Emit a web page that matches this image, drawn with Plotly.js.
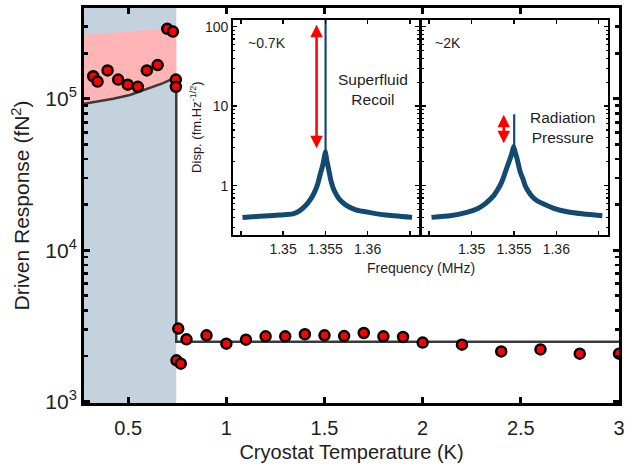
<!DOCTYPE html>
<html>
<head>
<meta charset="utf-8">
<script src="https://cdn.plot.ly/plotly-3.0.1.min.js"></script>
<style>html,body{margin:0;padding:0;background:#fff;}#chart{width:633px;height:466px;}</style>
</head>
<body>
<div id="chart"></div>
<script>
// ---- Main panel data ----
const tempK = [0.322, 0.344, 0.395, 0.449, 0.498, 0.549, 0.595, 0.650, 0.699, 0.728, 0.743, 0.743,
               0.746, 0.755, 0.768, 0.797, 0.899, 1.0, 1.1, 1.2, 1.3, 1.4, 1.5, 1.6, 1.7, 1.8, 1.9, 2.0,
               2.2, 2.4, 2.6, 2.8, 3.0];
const response = [1.41e5, 1.30e5, 1.54e5, 1.34e5, 1.24e5, 1.20e5, 1.54e5, 1.67e5, 2.90e5, 2.78e5, 1.34e5, 1.20e5,
                  1870, 3030, 1778, 2575, 2737, 2410, 2563, 2694, 2694, 2780, 2737, 2704, 2833, 2694, 2667, 2449,
                  2374, 2143, 2208, 2069, 2069];
// model line
const modelT = [0.275, 0.424, 0.509, 0.594, 0.678, 0.745, 0.745, 3.0];
const modelY = [9.27e4, 1.0e5, 1.06e5, 1.16e5, 1.27e5, 1.39e5, 2480, 2480];
// pink band upper edge
const bandT = [0.275, 0.45, 0.6, 0.745];
const bandUpper = [2.65e5, 2.77e5, 2.85e5, 2.94e5];
const superfluidEdgeK = 0.745;
const xTicks = [0.5, 1, 1.5, 2, 2.5, 3];
const xTickText = ['0.5', '1', '1.5', '2', '2.5', '3'];
const yTicks = [1e3, 1e4, 1e5];
const yTickText = ['10<sup>3</sup>', '10<sup>4</sup>', '10<sup>5</sup>'];

// ---- Inset spectra (~0.7 K) ----
const freqLow = [1.34520, 1.34724, 1.34959, 1.35115, 1.35194, 1.35273, 1.35332, 1.35371, 1.35409, 1.35441,
                 1.35468, 1.35488, 1.35500, 1.35515, 1.35539, 1.35567, 1.35606, 1.35665, 1.35744, 1.35861,
                 1.36018, 1.36214, 1.36527];
const dispLow = [0.398, 0.41, 0.426, 0.44, 0.482, 0.569, 0.690, 0.821, 1.04, 1.40,
                 1.78, 2.26, 2.66, 2.15, 1.61, 1.15, 0.86, 0.676, 0.569, 0.496,
                 0.46, 0.426, 0.398];
const spikeLowF = [1.35503, 1.35503];
const spikeLowD = [2.66, 130];
// ---- Inset spectra (~2 K) ----
const freqHigh = [1.34528, 1.34745, 1.34943, 1.35062, 1.35141, 1.35200, 1.35259, 1.35299, 1.35338, 1.35370,
                  1.35397, 1.35425, 1.35456, 1.35480, 1.35496, 1.35515, 1.35536, 1.35556, 1.35575, 1.35607,
                  1.35634, 1.35674, 1.35713, 1.35773, 1.35852, 1.35970, 1.36128, 1.36326, 1.36543];
const dispHigh = [0.398, 0.417, 0.46, 0.506, 0.569, 0.644, 0.744, 0.86, 1.01, 1.21,
                  1.47, 1.78, 2.20, 2.66, 3.11, 2.62, 2.20, 1.78, 1.47, 1.21,
                  0.99, 0.836, 0.731, 0.644, 0.585, 0.517, 0.468, 0.438, 0.417];
const spikeHighF = [1.35503, 1.35503];
const spikeHighD = [3.11, 7.9];
const fTicks = [1.345, 1.35, 1.355, 1.36, 1.365];
const fTickText = ['', '1.35', '1.355', '1.36', ''];
const dTicks = [1, 10, 100];
const dTickText = ['1', '10', '100'];

const FONT = 'Liberation Sans, Arial, sans-serif';
const TXT = '#1e1e1e';
const TRACE = '#134a72';
const minorMain = [];
for (const d of [1e3, 1e4, 1e5]) for (let k = 2; k <= 9; k++) if (d * k < 4.1e5) minorMain.push(d * k);
const minorInset = [];
for (const d of [0.1, 1, 10, 100]) for (let k = 2; k <= 9; k++) minorInset.push(d * k);

const bandX = modelT.slice(0, 6).concat(bandT.slice().reverse());
const bandY = modelY.slice(0, 6).concat(bandUpper.slice().reverse());

const traces = [
  {x: bandX, y: bandY, type: 'scatter', mode: 'lines', fill: 'toself', fillcolor: '#ffb5b5',
   line: {width: 0}, hoverinfo: 'skip', xaxis: 'x', yaxis: 'y'},
  {x: modelT, y: modelY, type: 'scatter', mode: 'lines', line: {color: '#3a3a3a', width: 2.5},
   xaxis: 'x', yaxis: 'y'},
  {x: tempK, y: response, type: 'scatter', mode: 'markers',
   marker: {color: '#ff0000', size: 10, line: {color: '#000', width: 2.5}}, xaxis: 'x', yaxis: 'y'},
  {x: freqLow, y: dispLow, type: 'scatter', mode: 'lines', line: {color: TRACE, width: 5, shape: 'spline', smoothing: 0.4},
   xaxis: 'x2', yaxis: 'y2'},
  {x: spikeLowF, y: spikeLowD, type: 'scatter', mode: 'lines', line: {color: TRACE, width: 2.2},
   xaxis: 'x2', yaxis: 'y2'},
  {x: freqHigh, y: dispHigh, type: 'scatter', mode: 'lines', line: {color: TRACE, width: 5, shape: 'spline', smoothing: 0.4},
   xaxis: 'x3', yaxis: 'y3'},
  {x: spikeHighF, y: spikeHighD, type: 'scatter', mode: 'lines', line: {color: TRACE, width: 2.2},
   xaxis: 'x3', yaxis: 'y3'}
];

const insetX = () => ({
  range: [1.3441, 1.3661],
  tickmode: 'array', tickvals: fTicks, ticktext: fTickText, ticks: 'inside', ticklen: 4, tickwidth: 1.5,
  tickcolor: '#000', showline: true, linecolor: '#000', linewidth: 2, mirror: 'ticks', showgrid: false,
  zeroline: false, tickfont: {family: FONT, size: 14, color: TXT}, ticklabelstandoff: 1
});
const insetY = (showLabels) => ({
  type: 'log', range: [-0.616, 2.088], tickmode: 'array', tickvals: dTicks, ticktext: dTickText,
  showticklabels: showLabels, ticks: 'inside', ticklen: 4, tickwidth: 1.5, tickcolor: '#000',
  minor: {tickmode: 'array', tickvals: minorInset, ticks: 'inside', ticklen: 2, tickwidth: 1.2, tickcolor: '#000', showgrid: false},
  showline: true, linecolor: '#000', linewidth: 2, mirror: 'ticks', showgrid: false, zeroline: false,
  tickfont: {family: FONT, size: 14, color: TXT}
});

const xa2 = insetX(); xa2.domain = [0.2789, 0.6264]; xa2.anchor = 'y2';
const xa3 = insetX(); xa3.domain = [0.6309, 0.9795]; xa3.anchor = 'y3';
const ya2 = insetY(true); ya2.domain = [0.4265, 0.9703]; ya2.anchor = 'x2';
ya2.title = {text: 'Disp. (fm.Hz<sup>-1/2</sup>)', font: {family: FONT, size: 13, color: TXT}, standoff: 0};
const ya3 = insetY(false); ya3.domain = [0.4265, 0.9703]; ya3.anchor = 'x3';

const px = (p) => (p - 84) / 535.3;
const py = (p) => (402.7 - p) / 394.4;

const layout = {
  width: 633, height: 466,
  margin: {l: 84, r: 14, t: 8, b: 63},
  paper_bgcolor: '#fff', plot_bgcolor: 'rgba(0,0,0,0)',
  showlegend: false,
  font: {family: FONT, color: TXT},
  xaxis: {
    domain: [0, 1], anchor: 'y', range: [0.275, 3.0], tickmode: 'array', tickvals: xTicks, ticktext: xTickText,
    ticks: 'inside', ticklen: 6, tickwidth: 3, tickcolor: '#000', showline: true, linecolor: '#000', linewidth: 3,
    mirror: 'ticks', showgrid: false, zeroline: false, tickfont: {family: FONT, size: 20, color: TXT},
    ticklabelstandoff: 5,
    title: {text: 'Cryostat Temperature (K)', font: {family: FONT, size: 20, color: TXT}, standoff: 7}
  },
  yaxis: {
    domain: [0, 1], anchor: 'x', type: 'log', range: [2.99, 5.60], tickmode: 'array', tickvals: yTicks, ticktext: yTickText,
    ticks: 'inside', ticklen: 6, tickwidth: 3, tickcolor: '#000', showline: true, linecolor: '#000', linewidth: 3,
    mirror: 'ticks', showgrid: false, zeroline: false, tickfont: {family: FONT, size: 21, color: TXT},
    minor: {tickmode: 'array', tickvals: minorMain, ticks: 'inside', ticklen: 4, tickwidth: 2.5, tickcolor: '#000', showgrid: false},
    title: {text: 'Driven Response (fN<sup>2</sup>)', font: {family: FONT, size: 21, color: TXT}, standoff: 10}
  },
  xaxis2: xa2, yaxis2: ya2, xaxis3: xa3, yaxis3: ya3,
  shapes: [
    {type: 'rect', xref: 'x', yref: 'paper', x0: 0.275, x1: superfluidEdgeK, y0: 0, y1: 1,
     fillcolor: '#c4d2de', line: {width: 0}, layer: 'below'}
  ],
  annotations: [
    {xref: 'paper', yref: 'paper', x: px(421), y: py(268), text: 'Frequency (MHz)', showarrow: false,
     xanchor: 'center', yanchor: 'middle', font: {family: FONT, size: 14, color: TXT}},
    {xref: 'paper', yref: 'paper', x: px(267), y: py(43), text: '~0.7K', showarrow: false,
     xanchor: 'center', yanchor: 'middle', font: {family: FONT, size: 14, color: TXT}},
    {xref: 'paper', yref: 'paper', x: px(373), y: py(90), text: 'Superfluid<br>Recoil', showarrow: false,
     xanchor: 'center', yanchor: 'middle', font: {family: FONT, size: 15.5, color: TXT}},
    {xref: 'paper', yref: 'paper', x: px(448), y: py(43), text: '~2K', showarrow: false,
     xanchor: 'center', yanchor: 'middle', font: {family: FONT, size: 14, color: TXT}},
    {xref: 'paper', yref: 'paper', x: px(563), y: py(128), text: 'Radiation<br>Pressure', showarrow: false,
     xanchor: 'center', yanchor: 'middle', font: {family: FONT, size: 15.5, color: TXT}},
    {xref: 'paper', yref: 'paper', x: px(316.7), y: py(25), text: '', showarrow: true,
     ax: 0, ay: 125, arrowside: 'end+start', arrowhead: 2, startarrowhead: 2, arrowsize: 1, startarrowsize: 1,
     arrowwidth: 2.5, arrowcolor: '#ff0000'},
    {xref: 'paper', yref: 'paper', x: px(504), y: py(115), text: '', showarrow: true,
     ax: 0, ay: 30, arrowside: 'end+start', arrowhead: 2, startarrowhead: 2, arrowsize: 1, startarrowsize: 1,
     arrowwidth: 2.5, arrowcolor: '#ff0000'}
  ]
};

Plotly.newPlot('chart', traces, layout, {staticPlot: true, displayModeBar: false});
</script>
</body>
</html>
